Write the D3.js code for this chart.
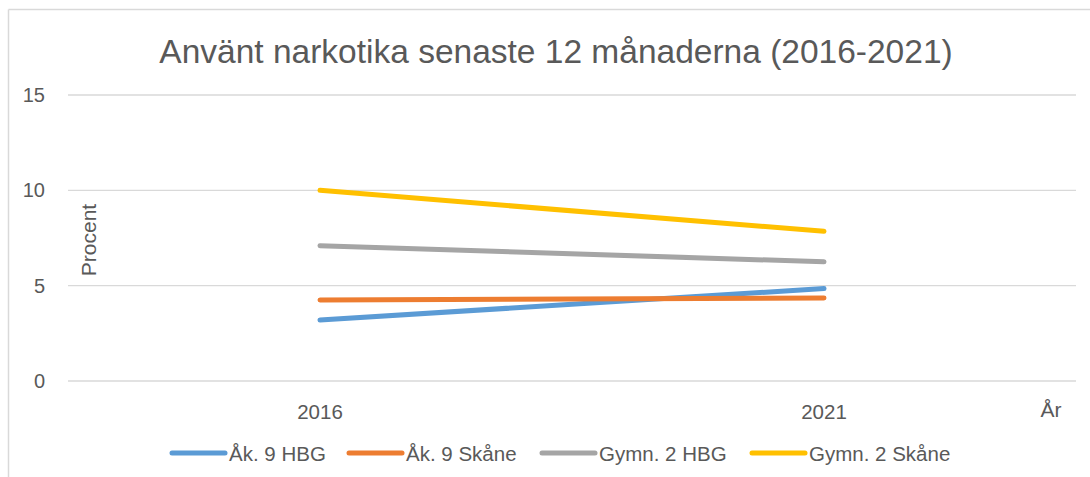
<!DOCTYPE html>
<html>
<head>
<meta charset="utf-8">
<script src="https://cdn.jsdelivr.net/npm/d3@7"></script>
<style>
  body { margin: 0; background: #fff; }
  svg text { font-family: "Liberation Sans", Arial, sans-serif; fill: #595959; }
</style>
</head>
<body>
<svg id="chart" width="1090" height="477"></svg>
<script>
var years = ["2016", "2021"];
var seriesNames = ["Åk. 9 HBG", "Åk. 9 Skåne", "Gymn. 2 HBG", "Gymn. 2 Skåne"];
var akHbg = [3.2, 4.85];
var akSkane = [4.25, 4.35];
var gymHbg = [7.1, 6.25];
var gymSkane = [10.0, 7.85];
var yTicks = [0, 5, 10, 15];
var colors = ["#5B9BD5", "#ED7D31", "#A5A5A5", "#FFC000"];

var allSeries = [akHbg, akSkane, gymHbg, gymSkane];

var svg = d3.select("#chart");

// chart frame (only top and left edges are visible)
svg.append("line").attr("x1", 8.5).attr("y1", 9.5).attr("x2", 1090).attr("y2", 9.5)
	.style("stroke", "#d9d9d9").style("stroke-width", 1.5);
svg.append("line").attr("x1", 8.5).attr("y1", 9.5).attr("x2", 8.5).attr("y2", 477)
	.style("stroke", "#d9d9d9").style("stroke-width", 1.5);

var plotLeft = 68, plotRight = 1076, plotTop = 95, plotBottom = 381;

var x = d3.scaleBand().domain(years).range([plotLeft, plotRight]);
var y = d3.scaleLinear().domain([0, 15]).range([plotBottom, plotTop]);

svg.append("text")
	.attr("x", 556).attr("y", 63)
	.attr("text-anchor", "middle")
	.style("font-size", "33.5px")
	.text("Använt narkotika senaste 12 månaderna (2016-2021)");

// gridlines
svg.selectAll("line.grid").data(yTicks).enter().append("line")
	.attr("class", "grid")
	.attr("x1", plotLeft).attr("x2", plotRight)
	.attr("y1", function(d) { return y(d); })
	.attr("y2", function(d) { return y(d); })
	.style("stroke", "#d9d9d9")
	.style("stroke-width", 1.3);

// y tick labels
svg.selectAll("text.ytick").data(yTicks).enter().append("text")
	.attr("class", "ytick")
	.attr("x", 45)
	.attr("y", function(d) { return y(d) + 7; })
	.attr("text-anchor", "end")
	.style("font-size", "20px")
	.text(function(d) { return d; });

// x tick labels
svg.selectAll("text.xtick").data(years).enter().append("text")
	.attr("class", "xtick")
	.attr("x", function(d) { return x(d) + x.bandwidth() / 2; })
	.attr("y", 419)
	.attr("text-anchor", "middle")
	.style("font-size", "20.5px")
	.text(function(d) { return d; });

// axis titles
svg.append("text")
	.attr("transform", "translate(96,240) rotate(-90)")
	.attr("text-anchor", "middle")
	.style("font-size", "21px")
	.text("Procent");

svg.append("text")
	.attr("x", 1051).attr("y", 417)
	.attr("text-anchor", "middle")
	.style("font-size", "21px")
	.text("År");

var line = d3.line()
	.x(function(d, i) { return x(years[i]) + x.bandwidth() / 2; })
	.y(function(d) { return y(d); });

svg.selectAll("path.series").data(allSeries).enter().append("path")
	.attr("class", "series")
	.attr("d", line)
	.style("fill", "none")
	.style("stroke", function(d, i) { return colors[i]; })
	.style("stroke-width", 5)
	.style("stroke-linecap", "round");

// legend
var legendX = [172, 349, 542, 752];
var legend = svg.selectAll("g.legend").data(seriesNames).enter().append("g")
	.attr("class", "legend")
	.attr("transform", function(d, i) { return "translate(" + legendX[i] + ",453)"; });

legend.append("line")
	.attr("x1", 0).attr("x2", 53)
	.attr("y1", 0).attr("y2", 0)
	.style("stroke", function(d, i) { return colors[i]; })
	.style("stroke-width", 5)
	.style("stroke-linecap", "round");

legend.append("text")
	.attr("x", 57).attr("y", 7.5)
	.style("font-size", "20.5px")
	.text(function(d) { return d; });
</script>
</body>
</html>
